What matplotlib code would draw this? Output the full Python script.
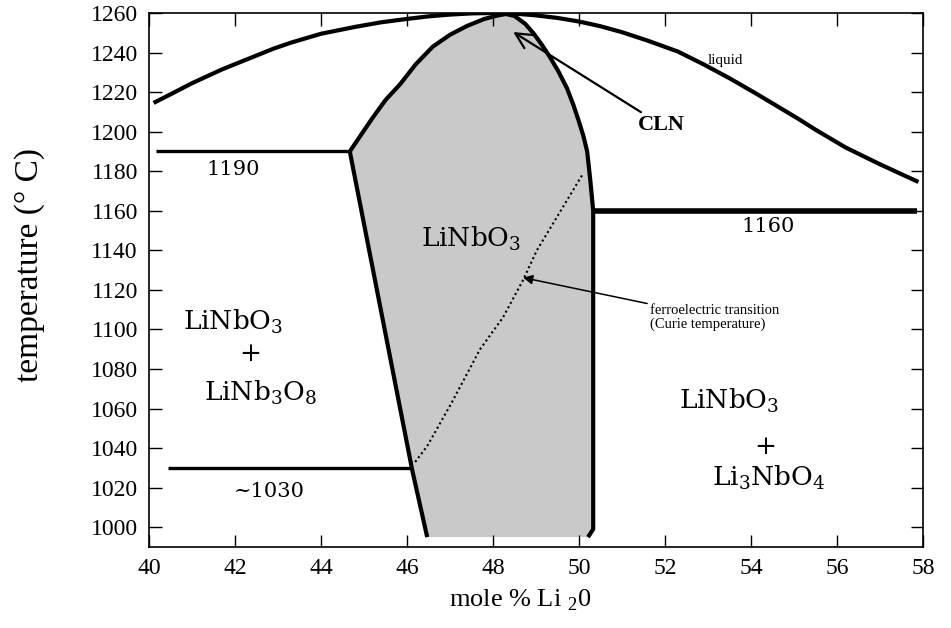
import matplotlib
matplotlib.use("Agg")
import matplotlib.pyplot as plot

plot.rcParams['font.family'] = ['Liberation Serif', 'DejaVu Serif']

# liquidus curve
liquid_x = [40.15, 40.6, 41.0, 41.7, 42.1, 42.5, 42.9, 43.3, 44.0, 44.8, 45.4, 46.0, 46.5,
            47.0, 47.5, 48.0, 48.5, 49.0, 49.5, 50.0, 50.5, 51.0, 51.6, 52.3, 52.9, 53.5,
            54.1, 54.6, 55.1, 55.5, 56.2, 57.0, 57.85]
liquid_y = [1215, 1220, 1224.5, 1231.5, 1235, 1238.5, 1242, 1245, 1249.5, 1253, 1255.3, 1257,
            1258.3, 1259.2, 1259.8, 1260, 1259.7, 1258.8, 1257.5, 1255.7, 1253.3, 1250.3,
            1246, 1240.5, 1234, 1227, 1219.5, 1213, 1206.5, 1201, 1192, 1183.5, 1175]

# LiNbO3 single phase field (solidus), bottom-left round to bottom-right
phase_x = [46.47, 46.12, 44.67, 44.95, 45.2, 45.5, 45.84, 46.2, 46.6, 47.0, 47.4, 47.8,
           48.1, 48.3, 48.5, 48.75, 48.95, 49.15, 49.33, 49.52, 49.72, 49.87, 50.0, 50.1,
           50.19, 50.26, 50.33, 50.33, 50.33, 50.21]
phase_y = [995, 1029, 1190, 1199, 1207, 1216, 1224, 1234, 1243, 1249, 1253.5, 1257,
           1258.7, 1259.5, 1258.5, 1254.5, 1249.5, 1243.5, 1237.5, 1230.5, 1222, 1213.5,
           1205, 1198, 1190, 1176, 1160, 1100, 999, 995]

# Curie temperature (dotted)
curie_x = [46.19, 46.47, 47.04, 47.7, 48.23, 48.7, 49.02, 49.63, 50.1]
curie_y = [1033, 1041, 1063, 1090, 1106, 1125, 1140, 1162, 1179]

# eutectic lines: (x start, x end, temperature)
eutectics = [(40.16, 44.67, 1190), (50.33, 57.85, 1160), (40.44, 46.12, 1030)]
eutectic_widths = [2.4, 4.0, 2.4]
eutectic_labels = ["1190", "1160", "~1030"]
eutectic_label_pos = [(41.95, 1181), (54.4, 1152), (42.8, 1018)]

xticks = list(range(40, 59, 2))
yticks = list(range(1000, 1261, 20))

figure = plot.figure(figsize=(9.51, 6.28), dpi=100)
axis = figure.add_axes([149 / 951, 1 - 547 / 628, (923 - 149) / 951, (547 - 13) / 628])

axis.fill(phase_x, phase_y, facecolor='#c9c9c9', edgecolor='none', zorder=1)
axis.plot(phase_x, phase_y, color='black', lw=3, solid_capstyle='butt',
          solid_joinstyle='round', zorder=3)
axis.plot(liquid_x, liquid_y, color='black', lw=3, solid_joinstyle='round', zorder=3)
axis.plot(curie_x, curie_y, color='black', lw=1.5, linestyle=(0, (1, 1.4)), zorder=2)

for (x0, x1, t), w in zip(eutectics, eutectic_widths):
    axis.plot([x0, x1], [t, t], color='black', lw=w, solid_capstyle='butt', zorder=3)

for label, (lx, ly) in zip(eutectic_labels, eutectic_label_pos):
    axis.text(lx, ly, label, ha='center', va='center', fontsize=15, family='DejaVu Serif')

# phase labels
phase_font = dict(family='DejaVu Serif', fontsize=19, ha='center', va='center')
axis.text(47.5, 1146, r'LiNbO$_\mathregular{3}$', **phase_font)
axis.text(41.95, 1104, r'LiNbO$_\mathregular{3}$', **phase_font)
axis.text(42.35, 1088, '+', **phase_font)
axis.text(42.6, 1068, r'LiNb$_\mathregular{3}$O$_\mathregular{8}$', **phase_font)
axis.text(53.5, 1064, r'LiNbO$_\mathregular{3}$', **phase_font)
axis.text(54.33, 1041, '+', **phase_font)
axis.text(54.4, 1025, r'Li$_\mathregular{3}$NbO$_\mathregular{4}$', **phase_font)

axis.text(53.4, 1236, 'liquid', fontsize=11, ha='center', va='center')

axis.annotate('CLN', xy=(48.47, 1250.4), xytext=(51.37, 1203.4),
              fontsize=16, fontweight='bold', ha='left', va='center',
              arrowprops=dict(arrowstyle='->', lw=1.6, color='black',
                              mutation_scale=28, shrinkA=0, shrinkB=0))
axis.annotate('ferroelectric transition\n(Curie temperature)', xy=(48.7, 1126.2),
              xytext=(51.65, 1106), fontsize=10.5, ha='left', va='center', linespacing=1.1,
              arrowprops=dict(arrowstyle='-|>', lw=1.1, color='black',
                              mutation_scale=14, shrinkA=0, shrinkB=0))

axis.set_xlim(40, 58)
axis.set_ylim(990, 1260)
axis.set_xticks(xticks)
axis.set_yticks(yticks)
axis.tick_params(direction='in', length=9, width=1, top=True, right=True,
                 labelsize=17, pad=8)
for spine in axis.spines.values():
    spine.set_linewidth(1.2)

figure.text(30 / 951, 1 - 265 / 628, 'temperature (° C)', rotation=90,
            ha='center', va='center', fontsize=24)
figure.text(520 / 951, 1 - 600 / 628, r'mole % Li $_\mathregular{2}$0',
            ha='center', va='center', fontsize=19)

plot.savefig("out.png", dpi=100)
